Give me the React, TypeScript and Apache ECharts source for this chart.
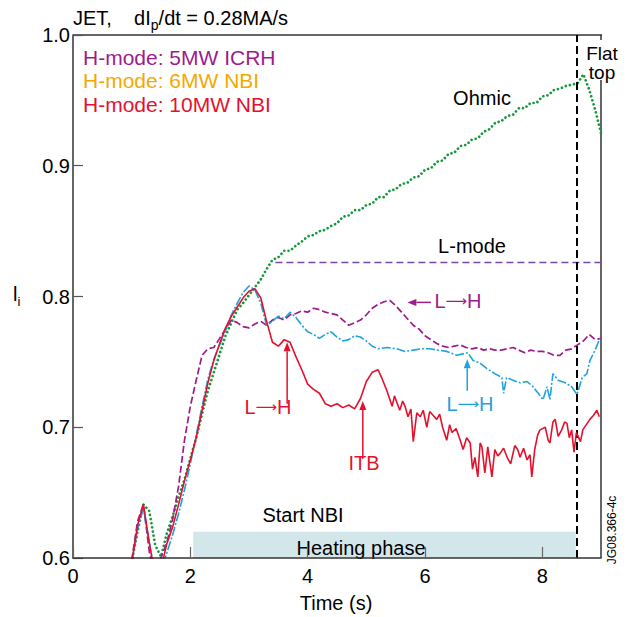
import React, { useEffect, useRef } from 'react';
import * as echarts from 'echarts';

// Regular time grid (s) for the early part / full traces
const TIME: number[] = Array.from({ length: 81 }, (_, i) => Math.round((1 + i * 0.1) * 10) / 10);

// H-mode: 10MW NBI (red, solid) — values on TIME grid from 1.0 to 5.1 s
const RED_EARLY = [
  0.596, 0.625, 0.641, 0.612, 0.586, 0.592, 0.611, 0.624, 0.641, 0.659,
  0.675, 0.692, 0.713, 0.734, 0.751, 0.764, 0.776, 0.785, 0.792, 0.799,
  0.804, 0.806, 0.799, 0.781, 0.765, 0.762, 0.767, 0.765, 0.754, 0.744,
  0.733, 0.729, 0.726, 0.718, 0.716, 0.718, 0.715, 0.717, 0.714, 0.722,
  0.735, 0.742,
];
// red, noisy late part (time, value)
const RED_LATE_T = [
  5.2, 5.26, 5.35, 5.44, 5.48, 5.52, 5.57, 5.62, 5.66, 5.71, 5.76, 5.8, 5.86, 5.92, 5.97,
  6.03, 6.08, 6.14, 6.2, 6.25, 6.3, 6.37, 6.42, 6.46, 6.53, 6.6, 6.65, 6.71, 6.77, 6.81,
  6.85, 6.9, 6.94, 6.97, 7.02, 7.07, 7.14, 7.19, 7.24, 7.28, 7.34, 7.4, 7.46, 7.53, 7.58,
  7.62, 7.68, 7.74, 7.79, 7.82, 7.87, 7.92, 7.96, 8.05, 8.1, 8.13, 8.18, 8.22, 8.27, 8.33,
  8.38, 8.42, 8.46, 8.5, 8.54, 8.58, 8.61, 8.65, 8.69, 8.75, 8.81, 8.87, 8.93, 8.97,
];
const RED_LATE_V = [
  0.744, 0.738, 0.728, 0.716, 0.724, 0.719, 0.713, 0.720, 0.716, 0.708, 0.714, 0.689, 0.711, 0.708, 0.713,
  0.700, 0.712, 0.709, 0.706, 0.710, 0.700, 0.690, 0.702, 0.696, 0.699, 0.690, 0.683, 0.692, 0.688, 0.668,
  0.677, 0.662, 0.688, 0.685, 0.665, 0.685, 0.662, 0.683, 0.678, 0.680, 0.684, 0.677, 0.672, 0.686, 0.683,
  0.677, 0.684, 0.675, 0.679, 0.662, 0.683, 0.694, 0.698, 0.700, 0.690, 0.688, 0.704, 0.706, 0.693, 0.698,
  0.704, 0.703, 0.692, 0.698, 0.681, 0.696, 0.693, 0.689, 0.698, 0.702, 0.706, 0.709, 0.713, 0.708,
];

// H-mode: 6MW NBI (blue, dash-dot) — values on TIME grid from 1.0 to 5.1 s
const BLUE_EARLY = [
  0.597, 0.622, 0.638, 0.612, 0.588, 0.590, 0.604, 0.618, 0.634, 0.652,
  0.672, 0.694, 0.716, 0.737, 0.752, 0.763, 0.774, 0.786, 0.795, 0.803,
  0.808, 0.805, 0.795, 0.778, 0.781, 0.785, 0.783, 0.788, 0.784, 0.778,
  0.773, 0.771, 0.768, 0.771, 0.773, 0.769, 0.766, 0.767, 0.770, 0.769,
  0.766, 0.762,
];
const BLUE_LATE_T = [
  5.2, 5.36, 5.52, 5.66, 5.8, 5.94, 6.08, 6.22, 6.37, 6.54, 6.73, 6.82, 6.94, 7.05, 7.19,
  7.31, 7.34, 7.39, 7.5, 7.62, 7.74, 7.84, 7.93, 8.01, 8.08, 8.13, 8.18, 8.27, 8.39, 8.5,
  8.59, 8.68, 8.76, 8.81, 8.9, 8.98,
];
const BLUE_LATE_V = [
  0.760, 0.761, 0.760, 0.758, 0.759, 0.760, 0.760, 0.759, 0.758, 0.755, 0.757, 0.751, 0.749, 0.745, 0.741,
  0.738, 0.726, 0.738, 0.736, 0.734, 0.735, 0.731, 0.726, 0.721, 0.731, 0.721, 0.741, 0.736, 0.734, 0.731,
  0.725, 0.738, 0.741, 0.751, 0.759, 0.768,
];

// H-mode: 5MW ICRH (purple, dashed) — TIME grid 1.0 to 9.0 s
const PURPLE_5MW_ICRH = [
  0.598, 0.628, 0.641, 0.605, 0.585, 0.600, 0.612, 0.630, 0.655, 0.690,
  0.716, 0.736, 0.755, 0.760, 0.761, 0.768, 0.775, 0.782, 0.780, 0.777,
  0.776, 0.779, 0.781, 0.778, 0.782, 0.784, 0.782, 0.786, 0.787, 0.789,
  0.788, 0.791, 0.790, 0.788, 0.787, 0.786, 0.782, 0.778, 0.780, 0.782,
  0.786, 0.791, 0.794, 0.796, 0.797, 0.793, 0.788, 0.783, 0.778, 0.775,
  0.770, 0.767, 0.764, 0.762, 0.761, 0.762, 0.763, 0.761, 0.760, 0.761,
  0.759, 0.760, 0.759, 0.759, 0.760, 0.761, 0.759, 0.757, 0.759, 0.758,
  0.758, 0.757, 0.755, 0.755, 0.759, 0.760, 0.763, 0.766, 0.771, 0.767,
  0.768,
];

// Ohmic (green, dotted) — TIME grid 1.0 to 9.0 s
const GREEN_OHMIC = [
  0.597, 0.620, 0.641, 0.636, 0.610, 0.601, 0.619, 0.632, 0.647, 0.660,
  0.676, 0.692, 0.710, 0.728, 0.742, 0.756, 0.770, 0.780, 0.790, 0.795,
  0.801, 0.807, 0.813, 0.821, 0.828, 0.830, 0.835, 0.835, 0.839, 0.842,
  0.846, 0.847, 0.850, 0.851, 0.854, 0.856, 0.861, 0.862, 0.866, 0.866,
  0.870, 0.871, 0.876, 0.876, 0.881, 0.882, 0.886, 0.887, 0.891, 0.892,
  0.897, 0.898, 0.903, 0.904, 0.909, 0.910, 0.915, 0.916, 0.920, 0.921,
  0.926, 0.928, 0.933, 0.934, 0.938, 0.939, 0.944, 0.944, 0.948, 0.948,
  0.953, 0.954, 0.958, 0.959, 0.961, 0.962, 0.963, 0.970, 0.958, 0.943,
  0.925,
];

const L_MODE_LEVEL = 0.826;
const L_MODE_START = 3.45;
const FLAT_TOP_TIME = 8.58;
const HEATING_START = 2.05;
const HEATING_END = 8.57;
const HEATING_TOP = 0.62;

const FONT = "'Liberation Sans', Arial, Helvetica, sans-serif";
const ARROW_FONT = "'DejaVu Sans', sans-serif";
const C_PURPLE = '#9e1b8e';
const C_ORANGE = '#f2a900';
const C_RED = '#e4112d';
const C_BLUE = '#1ea3dc';
const C_GREEN = '#14993c';
const C_LMODE = '#7a48a6';

export default function App() {
  const ref = useRef<HTMLDivElement>(null);
  useEffect(() => {
    const chart = echarts.init(ref.current!, null, { renderer: 'svg' });
    const GL = 73, GT = 35, GR = 601, GB = 558;
    const px = (t: number) => GL + (t / 9) * (GR - GL);
    const py = (v: number) => GB - ((v - 0.6) / 0.4) * (GB - GT);
    const grid = (arr: number[]) => arr.map((v, i) => [TIME[i], v]);
    const late = (ts: number[], vs: number[]) => ts.map((t, i) => [t, vs[i]]);

    const txt = (x: number, y: number, text: string, fill = '#000', size = 20, align = 'center', lh?: number) => ({
      type: 'text', x, y, z: 10,
      style: { text, fill, fontSize: size, fontFamily: FONT, align, verticalAlign: 'middle', lineHeight: lh },
    });
    const lh = (x: number, y: number, fill: string) => ({
      type: 'text', x, y, z: 10,
      style: {
        text: '{a|L}{b|\u27F6}{a|H}', fill, align: 'center', verticalAlign: 'middle',
        rich: {
          a: { fontSize: 20, fontFamily: FONT, fill },
          b: { fontSize: 15, fontFamily: ARROW_FONT, fill },
        },
      },
    });
    const arrow = (x1: number, y1: number, x2: number, y2: number, color: string) => {
      const ang = Math.atan2(y2 - y1, x2 - x1);
      const L = 9, W = 3.5;
      const bx = x2 - L * Math.cos(ang), by = y2 - L * Math.sin(ang);
      const nx = -Math.sin(ang), ny = Math.cos(ang);
      return [
        { type: 'line', z: 10, shape: { x1, y1, x2: bx, y2: by }, style: { stroke: color, lineWidth: 1.5 } },
        { type: 'polygon', z: 10, shape: { points: [[x2, y2], [bx + nx * W, by + ny * W], [bx - nx * W, by - ny * W]] }, style: { fill: color } },
      ];
    };

    const option: any = {
      animation: false,
      grid: { left: GL, right: 628 - GR, top: GT, bottom: 617 - GB },
      xAxis: {
        type: 'value', min: 0, max: 9, interval: 2, z: 10,
        axisLine: { lineStyle: { color: '#333', width: 1.5 } },
        axisTick: { inside: true, length: 11, lineStyle: { color: '#666', width: 1.2 } },
        axisLabel: { color: '#000', fontSize: 20, fontFamily: FONT, margin: 8, showMaxLabel: false,
          formatter: (v: number) => (v === 9 ? '' : String(v)) },
        splitLine: { show: false },
      },
      yAxis: {
        type: 'value', min: 0.6, max: 1.0, interval: 0.1,
        axisLine: { show: true, lineStyle: { color: '#333', width: 1.5 } },
        axisTick: { show: true, inside: true, length: 10, lineStyle: { color: '#555', width: 1.2 } },
        axisLabel: { color: '#000', fontSize: 20, fontFamily: FONT, margin: 3,
          formatter: (v: number) => v.toFixed(1) },
        splitLine: { show: false },
      },
      series: [
        {
          name: 'Heating', type: 'line', data: [], silent: true,
          markArea: {
            silent: true,
            itemStyle: { color: '#d3e6ea' },
            data: [[{ coord: [HEATING_START, 0.6] }, { coord: [HEATING_END, HEATING_TOP] }]],
          },
          markLine: {
            silent: true, symbol: 'none', label: { show: false },
            data: [
              [{ coord: [L_MODE_START, L_MODE_LEVEL], lineStyle: { color: C_LMODE, width: 1.3, type: [7, 4] } },
               { coord: [9, L_MODE_LEVEL] }],
              [{ coord: [FLAT_TOP_TIME, 0.6], lineStyle: { color: '#000', width: 2, type: [8, 4] } },
               { coord: [FLAT_TOP_TIME, 1.0] }],
            ],
          },
        },
        {
          name: 'Ohmic', type: 'line', data: grid(GREEN_OHMIC), showSymbol: false, clip: true, z: 3,
          lineStyle: { color: C_GREEN, width: 2.7, type: [0.01, 4.2], cap: 'round' },
        },
        {
          name: 'H-mode: 5MW ICRH', type: 'line', data: grid(PURPLE_5MW_ICRH), showSymbol: false, clip: true, z: 4,
          lineStyle: { color: C_PURPLE, width: 1.7, type: [7, 3] },
        },
        {
          name: 'H-mode: 6MW NBI', type: 'line', data: [...grid(BLUE_EARLY), ...late(BLUE_LATE_T, BLUE_LATE_V)],
          showSymbol: false, clip: true, z: 5,
          lineStyle: { color: C_BLUE, width: 1.6, type: [9, 2, 2, 2] },
        },
        {
          name: 'H-mode: 10MW NBI', type: 'line', data: [...grid(RED_EARLY), ...late(RED_LATE_T, RED_LATE_V)],
          showSymbol: false, clip: true, z: 6,
          lineStyle: { color: C_RED, width: 1.6 },
        },
      ],
      graphic: [
        // frame (top and right)
        { type: 'line', shape: { x1: GL, y1: GT, x2: GR + 1, y2: GT }, style: { stroke: '#333', lineWidth: 1.5 } },
        { type: 'line', shape: { x1: GR, y1: GT, x2: GR, y2: GT + 5 }, style: { stroke: '#333', lineWidth: 1.5 } },
        { type: 'line', shape: { x1: GR, y1: 80, x2: GR, y2: GB }, style: { stroke: '#333', lineWidth: 1.5 } },
        // title
        {
          type: 'text', x: GL, y: 18, z: 10,
          style: {
            text: '{a|JET,    dI}{s|p}{a|/dt = 0.28MA/s}', fill: '#000', fontFamily: FONT, verticalAlign: 'middle',
            rich: {
              a: { fontSize: 20, lineHeight: 28, fontFamily: FONT },
              s: { fontSize: 14, lineHeight: 14, verticalAlign: 'bottom', fontFamily: FONT },
            },
          },
        },
        // y-axis name
        {
          type: 'text', x: 13, y: 294, z: 10,
          style: {
            text: '{a|l}{s|i}', fill: '#000', fontFamily: FONT, verticalAlign: 'middle',
            rich: {
              a: { fontSize: 20, lineHeight: 28, fontFamily: FONT },
              s: { fontSize: 13, lineHeight: 14, verticalAlign: 'bottom', fontFamily: FONT },
            },
          },
        },
        txt(336, 603, 'Time (s)', '#000', 20),
        // legend texts
        txt(83, 57, 'H-mode: 5MW ICRH', C_PURPLE, 21, 'left'),
        txt(83, 80, 'H-mode: 6MW NBI', C_ORANGE, 21, 'left'),
        txt(83, 104, 'H-mode: 10MW NBI', C_RED, 21, 'left'),
        // annotations
        txt(482, 98, 'Ohmic'),
        txt(472, 246, 'L-mode'),
        txt(602, 63, 'Flat\ntop', '#000', 19, 'center', 19),
        txt(303, 515, 'Start NBI'),
        txt(361, 548, 'Heating phase'),
        lh(458, 301, C_PURPLE),
        ...arrow(px(6.1), py(0.7955), px(5.7), py(0.7955), C_PURPLE),
        lh(268, 407, C_RED),
        ...arrow(px(3.65), py(0.718), px(3.65), py(0.765), C_RED),
        txt(364, 463, 'ITB', C_RED),
        ...arrow(px(4.94), py(0.676), px(4.94), py(0.72), C_RED),
        lh(470, 404, C_BLUE),
        ...arrow(px(6.72), py(0.728), px(6.72), py(0.752), C_BLUE),
        {
          type: 'text', x: 612, y: 530, rotation: Math.PI / 2, z: 10,
          style: { text: 'JG08.366-4c', fill: '#000', fontSize: 12, fontFamily: FONT, align: 'center', verticalAlign: 'middle' },
        },
      ],
    };
    chart.setOption(option);
    return () => chart.dispose();
  }, []);
  return <div ref={ref} style={{ position: 'absolute', left: 0, top: 0, width: 628, height: 617 }} />;
}
